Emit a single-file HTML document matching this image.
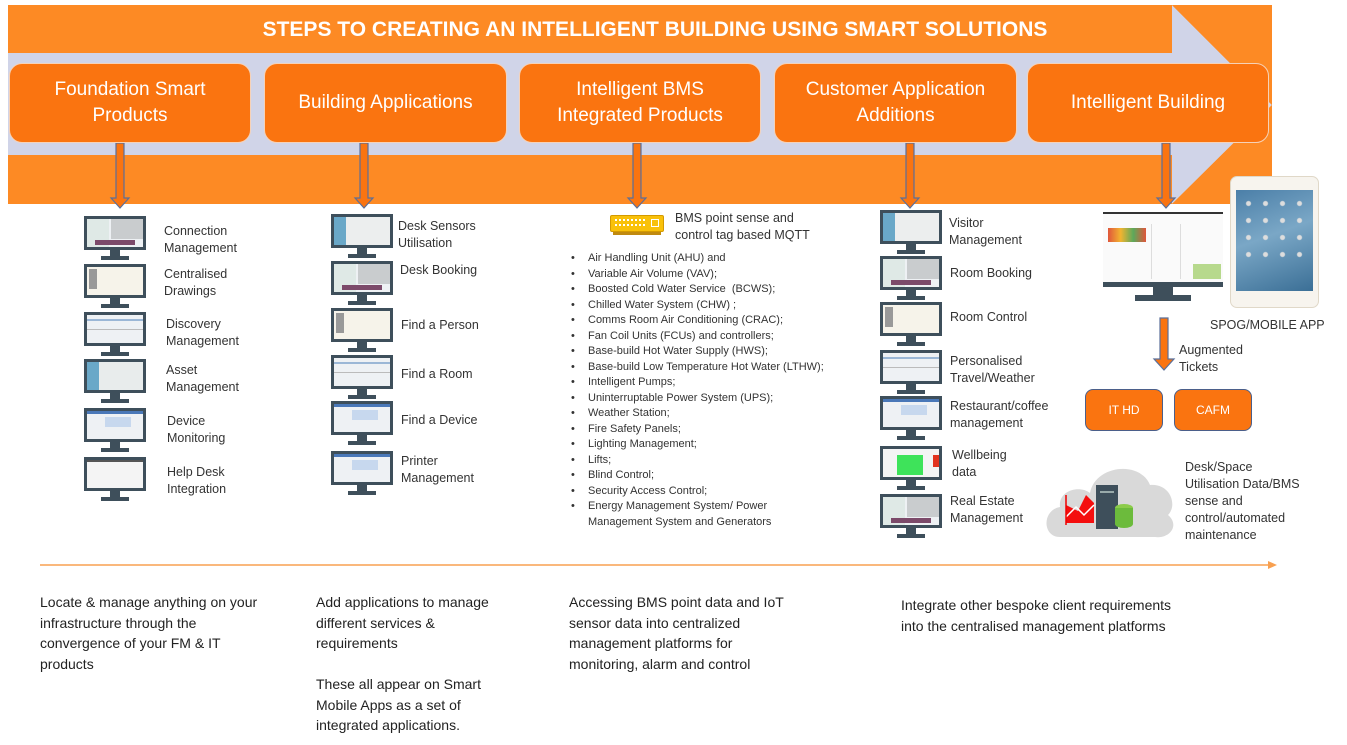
<!DOCTYPE html>
<html><head><meta charset="utf-8"><style>
*{margin:0;padding:0;box-sizing:border-box}
body{width:1347px;height:745px;background:#fff;position:relative;overflow:hidden;font-family:"Liberation Sans",sans-serif;color:#333}
.a{position:absolute}
.box{position:absolute;top:63px;height:80px;background:#fa7410;border:1.5px solid #f6d2b8;border-radius:13px;color:#fff;font-size:19px;display:flex;align-items:center;justify-content:center;text-align:center;line-height:26px}
.mon{position:absolute;width:62px;height:45px}
.mon .s{position:absolute;left:0;top:0;width:62px;height:34px;border:3px solid #3e4f5b;background:#eef1f4;overflow:hidden}
.mon .s i{position:absolute;display:block}
.mon .n{position:absolute;left:26px;top:34px;width:10px;height:6px;background:#3e4f5b}
.mon .b{position:absolute;left:17px;top:40px;width:28px;height:4px;background:#3e4f5b}
.lb{position:absolute;font-size:12.5px;line-height:17px;color:#333}
.bl{position:absolute;left:571px;font-size:11px;line-height:15.5px;color:#333}
.bl li{list-style:none;position:relative;padding-left:17px}
.bl li:before{content:"•";position:absolute;left:0}
.bt{position:absolute;font-size:14px;line-height:20.5px;color:#222}
.darr{position:absolute;width:12px}
</style></head><body>

<svg class="a" style="left:0;top:0" width="1347" height="215">
<rect x="8" y="5" width="1264" height="199" fill="#fd8a24"/>
<polygon points="8,53 1172,53 1172,5 1272,105 1172,204 1172,155 8,155" fill="#d0d4e8"/>
<polygon points="1172,5 1272,5 1272,105" fill="#fd8a24"/>
<polygon points="1172,204 1272,105 1272,204" fill="#fd8a24"/>
<text x="655" y="36" text-anchor="middle" fill="#fff" font-family="Liberation Sans" font-weight="bold" font-size="21">STEPS TO CREATING AN INTELLIGENT BUILDING USING SMART SOLUTIONS</text>
<g fill="#fa7410" stroke="#5b6f99" stroke-width="1.2">
<polygon points="116,143 124,143 124,198 129,198 120,208 111,198 116,198"/>
<polygon points="360,143 368,143 368,198 373,198 364,208 355,198 360,198"/>
<polygon points="633,143 641,143 641,198 646,198 637,208 628,198 633,198"/>
<polygon points="906,143 914,143 914,198 919,198 910,208 901,198 906,198"/>
<polygon points="1162,143 1170,143 1170,198 1175,198 1166,208 1157,198 1162,198"/>
</g>
</svg>

<div class="box" style="left:9px;width:242px">Foundation Smart<br>Products</div>
<div class="box" style="left:264px;width:243px">Building Applications</div>
<div class="box" style="left:519px;width:242px">Intelligent BMS<br>Integrated Products</div>
<div class="box" style="left:774px;width:243px">Customer Application<br>Additions</div>
<div class="box" style="left:1027px;width:242px">Intelligent Building</div>

<!-- column 1 monitors -->
<div class="mon" style="left:84px;top:216px"><div class="s"><i style="left:0;top:0;width:22px;height:28px;background:#dfe9e6"></i><i style="left:24px;top:0;width:32px;height:20px;background:#c9ccce"></i><i style="left:8px;top:21px;width:40px;height:5px;background:#7c4a6a"></i></div><div class="n"></div><div class="b"></div></div>
<div class="mon" style="left:84px;top:264px"><div class="s" style="background:#f6f3ea"><i style="left:2px;top:2px;width:8px;height:20px;background:#999"></i></div><div class="n"></div><div class="b"></div></div>
<div class="mon" style="left:84px;top:312px"><div class="s"><i style="left:0;top:4px;width:56px;height:2px;background:#9bb7d6"></i><i style="left:0;top:14px;width:56px;height:1px;background:#bbb"></i></div><div class="n"></div><div class="b"></div></div>
<div class="mon" style="left:84px;top:359px"><div class="s" style="background:#e8ecec"><i style="left:0;top:0;width:12px;height:28px;background:#6aa8c8"></i></div><div class="n"></div><div class="b"></div></div>
<div class="mon" style="left:84px;top:408px"><div class="s"><i style="left:0;top:0;width:56px;height:3px;background:#4a78b8"></i><i style="left:18px;top:6px;width:26px;height:10px;background:#c7d8ee"></i></div><div class="n"></div><div class="b"></div></div>
<div class="mon" style="left:84px;top:457px"><div class="s" style="background:#f4f4f4"><i style="left:0;top:0;width:56px;height:2px;background:#555"></i></div><div class="n"></div><div class="b"></div></div>

<div class="lb" style="left:164px;top:223px">Connection<br>Management</div>
<div class="lb" style="left:164px;top:266px">Centralised<br>Drawings</div>
<div class="lb" style="left:166px;top:316px">Discovery<br>Management</div>
<div class="lb" style="left:166px;top:362px">Asset<br>Management</div>
<div class="lb" style="left:167px;top:413px">Device<br>Monitoring</div>
<div class="lb" style="left:167px;top:464px">Help Desk<br>Integration</div>

<!-- column 2 -->
<div class="mon" style="left:331px;top:214px"><div class="s" style="background:#eceeee"><i style="left:0;top:0;width:12px;height:28px;background:#6aa8c8"></i></div><div class="n"></div><div class="b"></div></div>
<div class="mon" style="left:331px;top:261px"><div class="s"><i style="left:0;top:0;width:22px;height:28px;background:#dfe9e6"></i><i style="left:24px;top:0;width:32px;height:20px;background:#c9ccce"></i><i style="left:8px;top:21px;width:40px;height:5px;background:#7c4a6a"></i></div><div class="n"></div><div class="b"></div></div>
<div class="mon" style="left:331px;top:308px"><div class="s" style="background:#f6f3ea"><i style="left:2px;top:2px;width:8px;height:20px;background:#999"></i></div><div class="n"></div><div class="b"></div></div>
<div class="mon" style="left:331px;top:355px"><div class="s"><i style="left:0;top:4px;width:56px;height:2px;background:#9bb7d6"></i><i style="left:0;top:14px;width:56px;height:1px;background:#bbb"></i></div><div class="n"></div><div class="b"></div></div>
<div class="mon" style="left:331px;top:401px"><div class="s"><i style="left:0;top:0;width:56px;height:3px;background:#4a78b8"></i><i style="left:18px;top:6px;width:26px;height:10px;background:#c7d8ee"></i></div><div class="n"></div><div class="b"></div></div>
<div class="mon" style="left:331px;top:451px"><div class="s"><i style="left:0;top:0;width:56px;height:3px;background:#4a78b8"></i><i style="left:18px;top:6px;width:26px;height:10px;background:#c7d8ee"></i></div><div class="n"></div><div class="b"></div></div>

<div class="lb" style="left:398px;top:218px">Desk Sensors<br>Utilisation</div>
<div class="lb" style="left:400px;top:262px">Desk Booking</div>
<div class="lb" style="left:401px;top:317px">Find a Person</div>
<div class="lb" style="left:401px;top:366px">Find a Room</div>
<div class="lb" style="left:401px;top:412px">Find a Device</div>
<div class="lb" style="left:401px;top:453px">Printer<br>Management</div>

<!-- BMS -->
<div class="a" style="left:610px;top:215px;width:54px;height:17px;background:#f9c10a;border:1.5px solid #d49a00;border-radius:2px"></div>
<div class="a" style="left:615px;top:219px;width:30px;height:7px;border-top:2px dotted #fff;border-bottom:2px dotted #fff"></div>
<div class="a" style="left:651px;top:219px;width:8px;height:8px;border:1.5px solid #fff"></div>
<div class="a" style="left:613px;top:232px;width:48px;height:3px;background:#c08a10"></div>
<div class="lb" style="left:675px;top:210px">BMS point sense and<br>control tag based MQTT</div>
<ul class="bl" style="top:251px">
<li>Air Handling Unit (AHU) and</li>
<li>Variable Air Volume (VAV);</li>
<li>Boosted Cold Water Service &nbsp;(BCWS);</li>
<li>Chilled Water System (CHW) ;</li>
<li>Comms Room Air Conditioning (CRAC);</li>
<li>Fan Coil Units (FCUs) and controllers;</li>
<li>Base-build Hot Water Supply (HWS);</li>
<li>Base-build Low Temperature Hot Water (LTHW);</li>
<li>Intelligent Pumps;</li>
<li>Uninterruptable Power System (UPS);</li>
<li>Weather Station;</li>
<li>Fire Safety Panels;</li>
<li>Lighting Management;</li>
<li>Lifts;</li>
<li>Blind Control;</li>
<li>Security Access Control;</li>
<li>Energy Management System/ Power<br>Management System and Generators</li>
</ul>

<!-- column 4 -->
<div class="mon" style="left:880px;top:210px"><div class="s" style="background:#eceeee"><i style="left:0;top:0;width:12px;height:28px;background:#6aa8c8"></i></div><div class="n"></div><div class="b"></div></div>
<div class="mon" style="left:880px;top:256px"><div class="s"><i style="left:0;top:0;width:22px;height:28px;background:#dfe9e6"></i><i style="left:24px;top:0;width:32px;height:20px;background:#c9ccce"></i><i style="left:8px;top:21px;width:40px;height:5px;background:#7c4a6a"></i></div><div class="n"></div><div class="b"></div></div>
<div class="mon" style="left:880px;top:302px"><div class="s" style="background:#f6f3ea"><i style="left:2px;top:2px;width:8px;height:20px;background:#999"></i></div><div class="n"></div><div class="b"></div></div>
<div class="mon" style="left:880px;top:350px"><div class="s"><i style="left:0;top:4px;width:56px;height:2px;background:#9bb7d6"></i><i style="left:0;top:14px;width:56px;height:1px;background:#bbb"></i></div><div class="n"></div><div class="b"></div></div>
<div class="mon" style="left:880px;top:396px"><div class="s"><i style="left:0;top:0;width:56px;height:3px;background:#4a78b8"></i><i style="left:18px;top:6px;width:26px;height:10px;background:#c7d8ee"></i></div><div class="n"></div><div class="b"></div></div>
<div class="mon" style="left:880px;top:446px"><div class="s" style="background:#f4f4f4"><i style="left:14px;top:6px;width:26px;height:20px;background:#3ee35a"></i><i style="left:50px;top:6px;width:6px;height:12px;background:#e2331f"></i></div><div class="n"></div><div class="b"></div></div>
<div class="mon" style="left:880px;top:494px"><div class="s"><i style="left:0;top:0;width:22px;height:28px;background:#dfe9e6"></i><i style="left:24px;top:0;width:32px;height:20px;background:#c9ccce"></i><i style="left:8px;top:21px;width:40px;height:5px;background:#7c4a6a"></i></div><div class="n"></div><div class="b"></div></div>

<div class="lb" style="left:949px;top:215px">Visitor<br>Management</div>
<div class="lb" style="left:950px;top:265px">Room Booking</div>
<div class="lb" style="left:950px;top:309px">Room Control</div>
<div class="lb" style="left:950px;top:353px">Personalised<br>Travel/Weather</div>
<div class="lb" style="left:950px;top:398px">Restaurant/coffee<br>management</div>
<div class="lb" style="left:952px;top:447px">Wellbeing<br>data</div>
<div class="lb" style="left:950px;top:493px">Real Estate<br>Management</div>

<!-- right side -->
<div class="a" style="left:1103px;top:212px;width:120px;height:70px;background:#fafafa;border-top:2px solid #333">
 <div class="a" style="left:5px;top:14px;width:38px;height:14px;background:linear-gradient(90deg,#e0563b,#f2b430,#5ca85b,#e0563b)"></div>
 <div class="a" style="left:48px;top:10px;width:30px;height:55px;border-left:1px solid #ddd;border-right:1px solid #ddd"></div>
 <div class="a" style="left:90px;top:50px;width:28px;height:15px;background:#b7d98d"></div>
</div>
<div class="a" style="left:1103px;top:282px;width:120px;height:5px;background:#3e4f5b"></div>
<div class="a" style="left:1153px;top:287px;width:20px;height:8px;background:#3e4f5b"></div>
<div class="a" style="left:1135px;top:295px;width:56px;height:6px;background:#3e4f5b"></div>

<div class="a" style="left:1230px;top:176px;width:89px;height:132px;background:#f7f4ee;border:1px solid #e0d8c8;border-radius:7px"></div>
<div class="a" style="left:1236px;top:190px;width:77px;height:101px;background:linear-gradient(160deg,#4b7fa8,#7aa7c6 45%,#3b6f96);"></div>
<div class="a" style="left:1240px;top:195px;width:70px;height:70px;background:radial-gradient(circle,#ddd 2px,transparent 3px) 0 0/17px 17px"></div>

<div class="lb" style="left:1210px;top:317px;font-size:12.5px">SPOG/MOBILE APP</div>
<svg class="a" style="left:1150px;top:315px" width="30" height="60"><polygon points="10,3 18,3 18,44 24,44 14,55 4,44 10,44" fill="#fa7410" stroke="#5b6f99" stroke-width="1.2"/></svg>
<div class="lb" style="left:1179px;top:342px">Augmented<br>Tickets</div>
<div class="a" style="left:1085px;top:389px;width:78px;height:42px;background:#fa7410;border:1.5px solid #4b5f8a;border-radius:8px;color:#fff;font-size:12px;display:flex;align-items:center;justify-content:center">IT HD</div>
<div class="a" style="left:1174px;top:389px;width:78px;height:42px;background:#fa7410;border:1.5px solid #4b5f8a;border-radius:8px;color:#fff;font-size:12px;display:flex;align-items:center;justify-content:center">CAFM</div>

<svg class="a" style="left:1040px;top:455px" width="140" height="90">
<path d="M20,82 C2,82 2,55 20,52 C18,35 40,30 50,38 C55,10 100,5 110,30 C130,28 138,50 128,60 C140,70 130,84 115,82 Z" fill="#d9d9d9"/>
<polygon points="26,68 26,50 38,56 46,40 54,48 54,68" fill="#f40e0e"/>
<polyline points="26,62 36,52 44,60 54,50" stroke="#fff" stroke-width="1.5" fill="none"/>
<line x1="26" y1="40" x2="26" y2="70" stroke="#e00" stroke-width="1.5"/>
<rect x="56" y="30" width="22" height="44" fill="#3e4f5b"/>
<rect x="60" y="36" width="14" height="2" fill="#9aa"/>
<ellipse cx="84" cy="53" rx="9" ry="4" fill="#8ccc4a"/>
<rect x="75" y="53" width="18" height="16" fill="#6cbb3c"/>
<ellipse cx="84" cy="69" rx="9" ry="4" fill="#6cbb3c"/>
</svg>
<div class="lb" style="left:1185px;top:459px">Desk/Space<br>Utilisation Data/BMS<br>sense and<br>control/automated<br>maintenance</div>

<!-- timeline -->
<svg class="a" style="left:0;top:558px" width="1347" height="16"><line x1="40" y1="7" x2="1270" y2="7" stroke="#f8a050" stroke-width="1.5"/><polygon points="1268,3 1277,7 1268,11" fill="#f8a050"/></svg>

<div class="bt" style="left:40px;top:592px">Locate &amp; manage anything on your<br>infrastructure through the<br>convergence of your FM &amp; IT<br>products</div>
<div class="bt" style="left:316px;top:592px">Add applications to manage<br>different services &amp;<br>requirements<br><br>These all appear on Smart<br>Mobile Apps as a set of<br>integrated applications.</div>
<div class="bt" style="left:569px;top:592px">Accessing BMS point data and IoT<br>sensor data into centralized<br>management platforms for<br>monitoring, alarm and control</div>
<div class="bt" style="left:901px;top:595px">Integrate other bespoke client requirements<br>into the centralised management platforms</div>
</body></html>
